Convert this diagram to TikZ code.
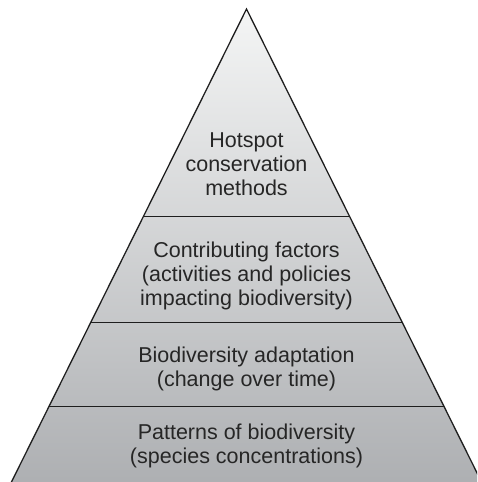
\documentclass[tikz,border=0pt]{standalone}
\usepackage{fontspec}
\setmainfont{Liberation Sans}
\usepackage{xcolor}
\usetikzlibrary{calc}
\definecolor{pyrtop}{HTML}{F4F5F5}
\definecolor{pyrbot}{HTML}{ABADB0}
\definecolor{pyrline}{HTML}{1E1E1E}
\begin{document}
\begin{tikzpicture}[x=1pt,y=-1pt]
	\tikzstyle{every node}+=[inner sep=0pt]
	\tikzstyle{bandtext}=[align=center, anchor=base, text=black!85, font=\fontsize{21.5}{24}\selectfont]
	\tikzstyle{bandline}=[pyrline, line width=1pt]
	\useasboundingbox (0,0) rectangle (477,482);
	\clip (0,0) rectangle (477,482);
	\coordinate (apex) at (246.5,9);
	\coordinate (bl) at (2.5,500);
	\coordinate (br) at (490.5,500);
	% pyramid
	\shade [top color=pyrtop, bottom color=pyrbot] (apex) -- (bl) -- (br) -- cycle;
	\draw [bandline] ($(apex)!0.4236!(bl)$) -- ($(apex)!0.4236!(br)$);
	\draw [bandline] ($(apex)!0.6395!(bl)$) -- ($(apex)!0.6395!(br)$);
	\draw [bandline] ($(apex)!0.8086!(bl)$) -- ($(apex)!0.8086!(br)$);
	\draw [pyrline, line width=1.3pt] (bl) -- (apex) -- (br);
	% labels (base = last line)
	\node [bandtext] (hotspot) at (246.5,195) {Hotspot\\conservation\\methods};
	\node [bandtext] (factors) at (246.5,305) {Contributing factors\\(activities and policies\\impacting biodiversity)};
	\node [bandtext] (adapt) at (246.5,386.5) {Biodiversity adaptation\\(change over time)};
	\node [bandtext] (patterns) at (246.5,463) {Patterns of biodiversity\\(species concentrations)};
\end{tikzpicture}
\end{document}
